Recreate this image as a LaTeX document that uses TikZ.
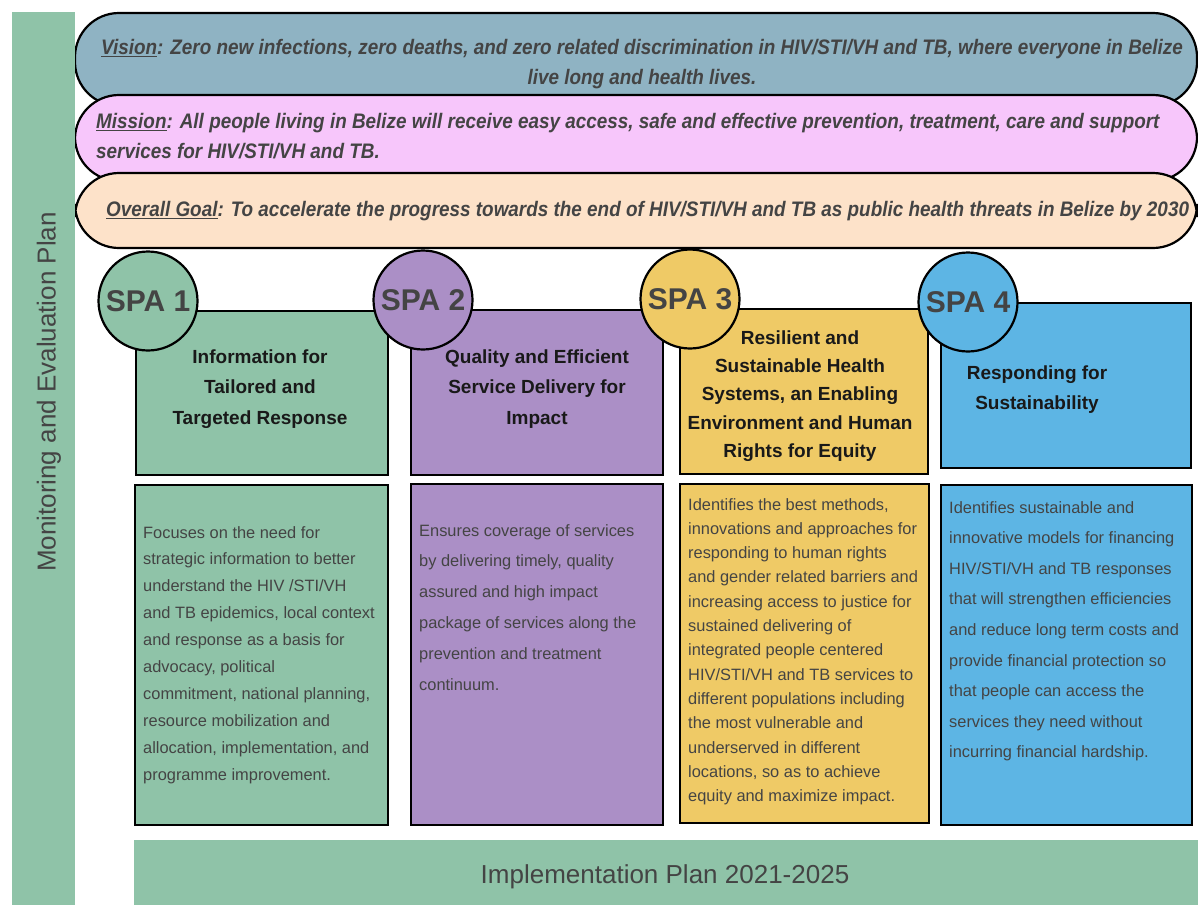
\documentclass[tikz,border=0pt]{standalone}
\usepackage{fontspec}
\setmainfont{Liberation Sans}
\newfontfamily\headfont[FakeStretch=0.9]{Liberation Sans}

\definecolor{spagreen}{HTML}{8FC3A8}
\definecolor{spapurple}{HTML}{AB8FC6}
\definecolor{spayellow}{HTML}{EFCA66}
\definecolor{spablue}{HTML}{5DB5E4}
\definecolor{visionblue}{HTML}{8FB3C3}
\definecolor{missionpink}{HTML}{F7C6FB}
\definecolor{goalpeach}{HTML}{FDE2C9}
\definecolor{textgray}{HTML}{444444}

\tikzset{
	band/.style={draw=black, line width=2.2pt, rounded corners=44pt},
	panel/.style={draw=black, line width=2.2pt},
	bandtext/.style={inner sep=0pt, text=textgray, font=\headfont\fontsize{21}{29.5}\selectfont\bfseries\itshape},
	spacircle/.style={circle, draw=black, line width=2.2pt, minimum size=99pt, inner sep=0pt, text=textgray, font=\fontsize{30}{30}\selectfont\bfseries},
	titletext/.style={align=center, inner sep=0pt, text=black!90, font=\fontsize{19}{#1}\selectfont\bfseries},
	desctext/.style={align=left, anchor=north west, inner sep=0pt, text=textgray, font=\fontsize{16.4}{#1}\selectfont},
	plantext/.style={inner sep=0pt, text=textgray, font=\fontsize{26}{26}\selectfont}
}

\begin{document}
\begin{tikzpicture}[x=1pt, y=-1pt]
	\useasboundingbox (0,0) rectangle (1198,905);
	\fill[white] (0,0) rectangle (1198,905);

	% vision, mission and goal bands
	\draw[band, fill=visionblue] (75,13) rectangle (1197,106);
	\draw[band, fill=missionpink] (75,95) rectangle (1197,181);
	\draw[band, fill=goalpeach] (75,173) rectangle (1197,248);

	\node[bandtext, align=center] (vision) at (642,64)
		{\underline{Vision}: Zero new infections, zero deaths, and zero related discrimination in HIV/STI/VH and TB, where everyone in Belize\\
		live long and health lives.};
	\node[bandtext, align=left, anchor=west, font=\headfont\fontsize{21}{30.5}\selectfont\bfseries\itshape] (mission) at (96,136)
		{\underline{Mission}: All people living in Belize will receive easy access, safe and effective prevention, treatment, care and support\\
		services for HIV/STI/VH and TB.};
	\node[bandtext, anchor=west] (goal) at (106,211)
		{\underline{Overall Goal}: To accelerate the progress towards the end of HIV/STI/VH and TB as public health threats in Belize by 2030};

	% title boxes
	\draw[panel, fill=spagreen] (136,311) rectangle (388,475);
	\draw[panel, fill=spapurple] (411,310) rectangle (663,475);
	\draw[panel, fill=spayellow] (680,309) rectangle (928,474);
	\draw[panel, fill=spablue] (941,303) rectangle (1191,468);

	\node[titletext=30.5] (title1) at (260,389) {Information for\\Tailored and\\Targeted Response};
	\node[titletext=30.5] (title2) at (537,389) {Quality and Efficient\\Service Delivery for\\Impact};
	\node[titletext=28.3] (title3) at (800,396) {Resilient and\\Sustainable Health\\Systems, an Enabling\\Environment and Human\\Rights for Equity};
	\node[titletext=30] (title4) at (1037,390) {Responding for\\Sustainability};

	% SPA circles
	\node[spacircle, fill=spagreen] (spa1) at (148,301) {SPA 1};
	\node[spacircle, fill=spapurple] (spa2) at (423,300) {SPA 2};
	\node[spacircle, fill=spayellow] (spa3) at (690,299) {SPA 3};
	\node[spacircle, fill=spablue] (spa4) at (968,302) {SPA 4};

	% description boxes
	\draw[panel, fill=spagreen] (135,485) rectangle (388,825);
	\draw[panel, fill=spapurple] (411,484) rectangle (663,825);
	\draw[panel, fill=spayellow] (680,484) rectangle (929,823);
	\draw[panel, fill=spablue] (941,485) rectangle (1192,825);

	\node[desctext=26.9] (desc1) at (143,526)
		{Focuses on the need for\\strategic information to better\\understand the HIV /STI/VH\\and TB epidemics, local context\\and response as a basis for\\advocacy, political\\commitment, national planning,\\resource mobilization and\\allocation, implementation, and\\programme improvement.};
	\node[desctext=30.8] (desc2) at (419,524)
		{Ensures coverage of services\\by delivering timely, quality\\assured and high impact\\package of services along the\\prevention and treatment\\continuum.};
	\node[desctext=24.3] (desc3) at (688,498)
		{Identifies the best methods,\\innovations and approaches for\\responding to human rights\\and gender related barriers and\\increasing access to justice for\\sustained delivering of\\integrated people centered\\HIV/STI/VH and TB services to\\different populations including\\the most vulnerable and\\underserved in different\\locations, so as to achieve\\equity and maximize impact.};
	\node[desctext=30.6] (desc4) at (949,501)
		{Identifies sustainable and\\innovative models for financing\\HIV/STI/VH and TB responses\\that will strengthen efficiencies\\and reduce long term costs and\\provide financial protection so\\that people can access the\\services they need without\\incurring financial hardship.};

	% plans around the frame
	\fill[spagreen] (134,840) rectangle (1198,905);
	\node[plantext] (implementation) at (665,877) {Implementation Plan 2021-2025};
	\fill[spagreen] (12,12) rectangle (75,905);
	\node[plantext, rotate=90] (monitoring) at (49,392) {Monitoring and Evaluation Plan};
\end{tikzpicture}
\end{document}
